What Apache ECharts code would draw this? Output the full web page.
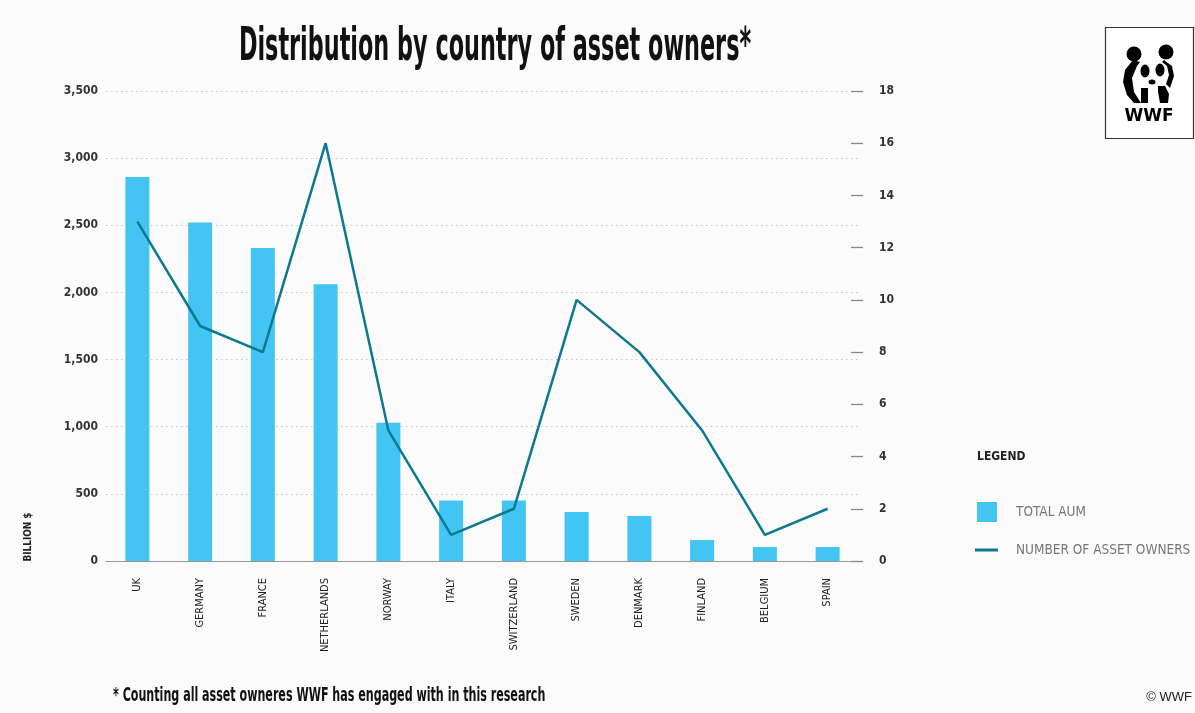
<!DOCTYPE html>
<html><head><meta charset="utf-8">
<script src="https://cdn.jsdelivr.net/npm/echarts@6/dist/echarts.min.js"></script>
<style>html,body{margin:0;padding:0;background:#fbfbfb;} #c{width:1195px;height:713px;}</style>
</head><body><div id="c"></div>
<script>
const categories = ['UK','GERMANY','FRANCE','NETHERLANDS','NORWAY','ITALY','SWITZERLAND','SWEDEN','DENMARK','FINLAND','BELGIUM','SPAIN'];
const totalAum = [2860, 2520, 2330, 2060, 1030, 450, 450, 365, 335, 156, 104, 104];
const assetOwners = [13, 9, 8, 16, 5, 1, 2, 10, 8, 5, 1, 2];
const seriesNames = ['TOTAL AUM', 'NUMBER OF ASSET OWNERS'];
const titleText = 'Distribution by country of asset owners*';
const footnote = '* Counting all asset owneres WWF has engaged with in this research';

const FONT = '"DejaVu Sans Condensed","Liberation Sans Narrow","Roboto",sans-serif';
const BAR = '#42c5f2';
const LINE = '#0c7891';

const chart = echarts.init(document.getElementById('c'));
chart.setOption({
  backgroundColor: '#fbfbfb',
  animation: false,
  grid: { left: 106, right: 336, top: 91, bottom: 152 },
  legend: [
    { data: [{ name: seriesNames[0], icon: 'rect' }], orient: 'vertical', left: 977, top: 502, padding: 0,
      itemWidth: 20, itemHeight: 20,
      textStyle: { fontFamily: FONT, fontSize: 13.5, color: '#777', padding: [0, 0, 0, 14] } },
    { data: [{ name: seriesNames[1], icon: 'rect' }], orient: 'vertical', left: 975, top: 543, padding: 0,
      itemWidth: 23, itemHeight: 3,
      textStyle: { fontFamily: FONT, fontSize: 13.5, color: '#777', padding: [0, 0, 0, 13] } }
  ],
  xAxis: {
    type: 'category', data: categories,
    axisLine: { lineStyle: { color: '#999', width: 1 } },
    axisTick: { show: false },
    axisLabel: { rotate: 90, margin: 17, fontFamily: FONT, fontSize: 11, color: '#222', interval: 0 }
  },
  yAxis: [
    { type: 'value', min: 0, max: 3500, interval: 500,
      axisLine: { show: false }, axisTick: { show: false },
      axisLabel: { margin: 8, fontFamily: FONT, fontSize: 12, fontWeight: 'bold', color: '#333',
        formatter: v => v.toLocaleString('en-US') },
      splitLine: { lineStyle: { color: '#c4c4c4', type: [1.5, 3.5], width: 1 } } },
    { type: 'value', min: 0, max: 18, interval: 2, position: 'right', offset: -8,
      axisLine: { show: false },
      axisTick: { show: true, length: 12, lineStyle: { color: '#888', width: 1.3 } },
      axisLabel: { margin: 28, fontFamily: FONT, fontSize: 12, fontWeight: 'bold', color: '#333' },
      splitLine: { show: false } }
  ],
  series: [
    { name: seriesNames[0], type: 'bar', data: totalAum, barWidth: 24, yAxisIndex: 0,
      itemStyle: { color: BAR } },
    { name: seriesNames[1], type: 'line', data: assetOwners, yAxisIndex: 1,
      symbol: 'none', lineStyle: { color: LINE, width: 2.5 }, itemStyle: { color: LINE } }
  ],
  graphic: [
    { type: 'text', x: 495, y: 48, scaleX: 0.54, style: { text: titleText, font: 'bold 46px ' + FONT, fill: '#111', align: 'center', verticalAlign: 'middle' } },
    { type: 'text', x: 977, y: 457, style: { text: 'LEGEND', font: 'bold 12px ' + FONT, fill: '#222', verticalAlign: 'middle' } },
    { type: 'text', x: 28, y: 537, rotation: Math.PI / 2, scaleX: 0.9, style: { text: 'BILLION $', font: 'bold 11px ' + FONT, fill: '#222', align: 'center', verticalAlign: 'middle' } },
    { type: 'text', x: 113, y: 696, scaleX: 0.65, style: { text: footnote, font: 'bold 19px ' + FONT, fill: '#111', verticalAlign: 'middle' } },
    { type: 'text', x: 1192, y: 697, style: { text: '© WWF', font: '13px "Liberation Sans",Arial,sans-serif', fill: '#222', align: 'right', verticalAlign: 'middle' } },
    { type: 'group', children: [
      { type: 'rect', shape: { x: 1105.5, y: 27.5, width: 88, height: 111 }, style: { fill: '#fff', stroke: '#333', lineWidth: 1.2 } },
      { type: 'circle', shape: { cx: 1134, cy: 54, r: 7.5 }, style: { fill: '#000' } },
      { type: 'circle', shape: { cx: 1166, cy: 52, r: 7.5 }, style: { fill: '#000' } },
      { type: 'polygon', shape: { points: [[1133,60],[1125,70],[1123,82],[1127,95],[1134,103],[1141,103],[1134,92],[1132,78],[1137,66],[1140,62]] }, style: { fill: '#000' } },
      { type: 'circle', x: 1145, y: 71, scaleY: 1.45, shape: { cx: 0, cy: 0, r: 4.5 }, style: { fill: '#000' } },
      { type: 'circle', x: 1160, y: 70, scaleY: 1.45, shape: { cx: 0, cy: 0, r: 4.5 }, style: { fill: '#000' } },
      { type: 'circle', x: 1152, y: 82, scaleX: 1.4, shape: { cx: 0, cy: 0, r: 2.5 }, style: { fill: '#000' } },
      { type: 'rect', shape: { x: 1141, y: 88, width: 7, height: 15 }, style: { fill: '#000' } },
      { type: 'polygon', shape: { points: [[1158,86],[1165,86],[1169,94],[1168,103],[1160,103],[1158,92]] }, style: { fill: '#000' } },
      { type: 'polygon', shape: { points: [[1164,60],[1172,66],[1174,76],[1170,88],[1166,84],[1169,75],[1167,66],[1162,62]] }, style: { fill: '#000' } },
      { type: 'text', x: 1149, y: 117, style: { text: 'WWF', font: 'bold 17px "DejaVu Sans","Liberation Sans",Arial,sans-serif', fill: '#000', align: 'center', verticalAlign: 'middle' } }
    ] }
  ]
});
</script>
</body></html>
